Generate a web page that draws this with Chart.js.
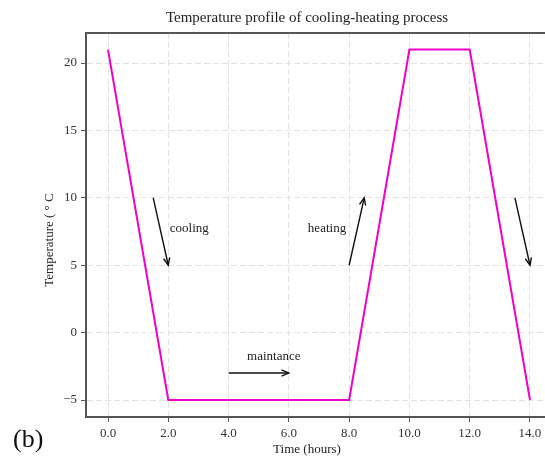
<!DOCTYPE html>
<html>
<head>
<meta charset="utf-8">
<script src="https://cdn.jsdelivr.net/npm/chart.js@4/dist/chart.umd.min.js"></script>
<style>
  html, body { margin: 0; padding: 0; background: #fff; overflow: hidden; }
  #wrap { width: 560px; height: 457px; position: relative; }
</style>
</head>
<body>
<div id="wrap"><canvas id="chart" width="560" height="457"></canvas></div>
<script>
// data
const times = [0, 2, 8, 10, 12, 14];
const temps = [21, -5, -5, 21, 21, -5];
const xTicks = [0, 2, 4, 6, 8, 10, 12, 14];
const yTicks = [-5, 0, 5, 10, 15, 20];

// arrows: [x0, y0, x1, y1]
const arrows = [
  [1.5, 10, 2.0, 5],
  [8.0, 5, 8.5, 10],
  [4.0, -3, 6.0, -3],
  [13.5, 10, 14.0, 5],
];
const notes = [
  { text: 'cooling', x: 2.05, y: 7.7, align: 'left' },
  { text: 'heating', x: 7.9, y: 7.7, align: 'right' },
  { text: 'maintance', x: 5.5, y: -1.8, align: 'center' },
];

const serif = '"Liberation Serif", "DejaVu Serif", serif';

const extras = {
  id: 'extras',
  afterDraw(chart) {
    const { ctx, chartArea, scales } = chart;
    const xs = scales.x, ys = scales.y;
    ctx.save();
    // top spine
    ctx.strokeStyle = '#555';
    ctx.lineWidth = 2;
    ctx.beginPath();
    ctx.moveTo(chartArea.left, chartArea.top);
    ctx.lineTo(chartArea.right + 10, chartArea.top);
    ctx.stroke();

    // arrows
    ctx.strokeStyle = '#111';
    ctx.fillStyle = '#111';
    ctx.lineWidth = 1.4;
    arrows.forEach(([a, b, c, d]) => {
      const x0 = xs.getPixelForValue(a), y0 = ys.getPixelForValue(b);
      const x1 = xs.getPixelForValue(c), y1 = ys.getPixelForValue(d);
      const ang = Math.atan2(y1 - y0, x1 - x0);
      ctx.beginPath();
      ctx.moveTo(x0, y0);
      ctx.lineTo(x1, y1);
      ctx.stroke();
      const h = 8;
      ctx.beginPath();
      ctx.moveTo(x1 - h * Math.cos(ang - 0.4), y1 - h * Math.sin(ang - 0.4));
      ctx.lineTo(x1, y1);
      ctx.lineTo(x1 - h * Math.cos(ang + 0.4), y1 - h * Math.sin(ang + 0.4));
      ctx.stroke();
    });

    // notes
    ctx.font = '13px ' + serif;
    ctx.fillStyle = '#222';
    ctx.textBaseline = 'middle';
    notes.forEach(n => {
      ctx.textAlign = n.align;
      ctx.fillText(n.text, xs.getPixelForValue(n.x), ys.getPixelForValue(n.y));
    });

    // title, axis labels, panel label
    ctx.textAlign = 'center';
    ctx.font = '15px ' + serif;
    ctx.fillText('Temperature profile of cooling-heating process', 307, 18);
    ctx.font = '13px ' + serif;
    ctx.fillText('Time (hours)', 307, 450);
    ctx.save();
    ctx.translate(50, 240);
    ctx.rotate(-Math.PI / 2);
    ctx.fillText('Temperature ( \u00B0 C', 0, 0);
    ctx.restore();
    ctx.textAlign = 'left';
    ctx.font = '26px ' + serif;
    ctx.fillStyle = '#111';
    ctx.fillText('(b)', 13, 440);
    ctx.restore();
  }
};

new Chart(document.getElementById('chart').getContext('2d'), {
  type: 'line',
  data: {
    datasets: [{
      data: times.map((t, i) => ({ x: t, y: temps[i] })),
      borderColor: '#f000c8',
      borderWidth: 2,
      pointRadius: 0,
      tension: 0,
      fill: false,
    }],
  },
  options: {
    responsive: false,
    animation: false,
    layout: { padding: { left: 0, top: 33, right: 8, bottom: 0 } },
    plugins: { legend: { display: false }, tooltip: { enabled: false }, title: { display: false } },
    scales: {
      x: {
        type: 'linear',
        min: -0.73,
        max: 14.73,
        afterBuildTicks(scale) { scale.ticks = xTicks.map(v => ({ value: v })); },
        afterFit(scale) { scale.height = 40; },
        border: { display: true, color: '#555', width: 2, dash: [6, 3] },
        grid: {
          color: '#e2e2e2',
          tickColor: '#555',
          tickBorderDash: [],
          tickLength: 5,
        },
        ticks: {
          color: '#333',
          font: { family: serif, size: 13 },
          padding: 4,
          maxRotation: 0,
          callback: v => v.toFixed(1),
        },
      },
      y: {
        min: -6.26,
        max: 22.23,
        afterBuildTicks(scale) { scale.ticks = yTicks.map(v => ({ value: v })); },
        afterFit(scale) { scale.width = 86; },
        border: { display: true, color: '#555', width: 2, dash: [6, 3] },
        grid: {
          color: '#e2e2e2',
          tickColor: '#555',
          tickBorderDash: [],
          tickLength: 5,
        },
        ticks: {
          color: '#333',
          font: { family: serif, size: 13 },
          padding: 4,
          callback: v => (v < 0 ? '\u2212' + Math.abs(v) : String(v)),
        },
      },
    },
  },
  plugins: [extras],
});
</script>
</body>
</html>
